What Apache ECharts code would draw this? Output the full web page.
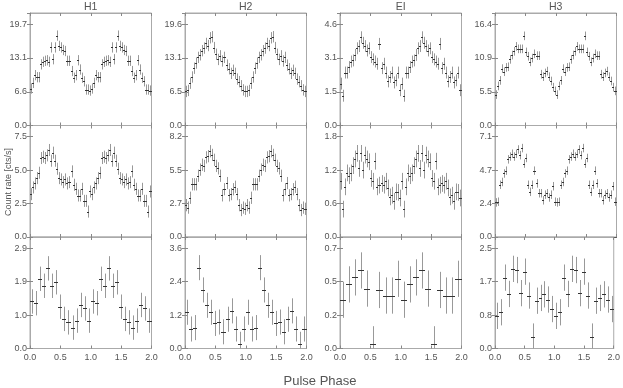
<!DOCTYPE html>
<html>
<head>
<meta charset="utf-8">
<script src="https://cdn.jsdelivr.net/npm/echarts@6/dist/echarts.min.js"></script>
<style>
html, body { margin: 0; padding: 0; background: #fff; }
#chart { width: 623px; height: 388px; }
</style>
</head>
<body>
<div id="chart"></div>
<script>
// columns, left to right
var bands = ['H1', 'H2', 'EI', 'H3']
var xTicks = [0, 0.5, 1.0, 1.5, 2.0]

// axis tops and tick labels, one line per row of panels
var yTop = [[21.9, 21.8, 5.1, 18.2], [8.33, 9.1, 2.0, 7.9], [3.2, 4.0, 0.8, 2.8]]
var yTicks = [
  [['6.6', '13.1', '19.7'], ['6.5', '13.1', '19.6'], ['1.5', '3.1', '4.6'], ['5.5', '10.9', '16.4']],
  [['2.5', '5.0', '7.5'], ['2.7', '5.5', '8.2'], ['0.6', '1.2', '1.8'], ['2.4', '4.7', '7.1']],
  [['1.0', '1.9', '2.9'], ['1.2', '2.4', '3.6'], ['0.2', '0.5', '0.7'], ['0.8', '1.7', '2.5']]
]

// one pulse cycle per panel (it is drawn twice, phase 0-2)
var h1A = [7.2, 8.3, 9.8, 9.4, 9.4, 11.9, 12.4, 12.6, 12.7, 12.4, 15.2, 12.9, 15.2, 17.5, 15.5, 15.2, 14.7, 14.5, 12.6, 12.6, 10.6, 9.3, 9.8, 12.7, 10.9, 9.3, 8.6, 7.0, 7.0, 6.8]
var h2A = [6.6, 6.8, 8.2, 9.4, 11.1, 12.1, 13.2, 13.7, 14.5, 15.0, 15.9, 15.5, 17.0, 17.2, 15.1, 13.8, 12.8, 13.5, 12.5, 13.2, 11.7, 11.0, 10.1, 10.7, 10.1, 9.0, 8.5, 7.7, 6.9, 6.6]
var eiA = [1.9, 1.35, 2.4, 2.4, 2.65, 2.9, 2.95, 3.2, 3.5, 3.6, 4.0, 3.75, 3.6, 3.4, 3.5, 3.1, 3.0, 2.9, 2.8, 3.7, 2.6, 2.8, 2.4, 2.0, 2.2, 2.4, 1.95, 2.05, 2.4, 1.6]
var h3A = [5.0, 6.4, 7.3, 9.2, 8.7, 9.4, 9.5, 10.7, 11.4, 12.0, 12.8, 12.4, 12.4, 12.4, 14.5, 11.9, 11.2, 10.3, 10.9, 11.6, 11.3, 11.3, 8.3, 7.9, 8.5, 8.8, 7.9, 7.2, 6.2, 5.6]

var h1B = [3.2, 3.7, 4.0, 4.4, 4.8, 5.9, 6.0, 5.9, 6.1, 6.5, 5.7, 6.3, 5.7, 5.1, 4.4, 4.3, 4.1, 4.3, 4.0, 4.1, 4.9, 3.9, 3.6, 3.1, 3.1, 3.6, 2.7, 2.7, 1.9, 3.4]
var h2B = [2.6, 2.4, 3.2, 4.3, 4.3, 4.3, 5.0, 5.5, 5.9, 5.8, 6.5, 6.6, 7.0, 6.7, 6.3, 5.8, 5.6, 5.0, 3.4, 3.9, 4.4, 3.4, 3.5, 3.9, 4.1, 3.5, 2.6, 2.2, 2.4, 2.3]
var eiB = [1.0, 0.5, 0.9, 1.15, 1.1, 1.15, 1.28, 1.4, 1.5, 1.23, 1.5, 1.2, 1.47, 1.4, 1.35, 1.05, 1.0, 1.36, 0.9, 0.93, 0.96, 0.93, 1.0, 0.88, 0.72, 0.75, 0.64, 0.81, 0.8, 0.7]
var h3B = [2.45, 2.5, 3.7, 3.9, 4.5, 4.7, 5.5, 5.7, 5.9, 5.7, 5.9, 6.2, 5.8, 6.3, 5.2, 5.6, 3.7, 3.2, 3.7, 4.7, 3.8, 3.1, 3.1, 2.6, 3.0, 3.1, 2.8, 3.0, 3.6, 2.5]

var h1C = [1.35, 1.3, 2.0, 1.8, 2.3, 1.8, 1.9, 1.2, 0.85, 0.75, 0.6, 0.8, 1.25, 1.15, 0.8]
var h2C = [1.3, 0.7, 0.75, 2.9, 2.1, 1.55, 1.3, 0.9, 0.95, 0.6, 1.05, 1.35, 0.7, 0.15, 0.7]
var eiC = [0.35, 0.46, 0.51, 0.56, 0.43, 0.03, 0.42, 0.38, 0.38, 0.50]
var h3C = [0.82, 0.91, 1.78, 1.37, 2.0, 1.97, 1.39, 1.93, 1.33, 0.30, 1.20, 1.27, 1.36, 1.23, 0.99]

// 1 sigma errors, one per panel
var errA = [1.0, 1.1, 0.27, 0.7]
var errB = [0.45, 0.5, 0.15, 0.3]
var errC = [0.35, 0.45, 0.13, 0.33]

var rows = [[h1A, h2A, eiA, h3A], [h1B, h2B, eiB, h3B], [h1C, h2C, eiC, h3C]]
var errs = [errA, errB, errC]

var colLeft = [30, 185, 340, 495]
var colWidth = 121.5
var rowTop = [13, 125.5, 237]
var rowHeight = [112.5, 111.5, 111.5]

var font = 'Liberation Sans, Arial, sans-serif'
var txt = '#555'

function renderErr (params, api) {
  var x = api.value(0)
  var y = api.value(1)
  var e = api.value(2)
  var hw = api.value(3)
  var top = api.coord([x, y + e])
  var bot = api.coord([x, y - e])
  var l = api.coord([x - hw, y])
  var r = api.coord([x + hw, y])
  var px = Math.round(top[0]) + 0.5
  var py = Math.round(l[1]) + 0.5
  return {
    type: 'group',
    children: [
      {type: 'line', shape: {x1: px, y1: top[1], x2: px, y2: bot[1]}, style: {stroke: '#999', lineWidth: 1}},
      {type: 'line', shape: {x1: Math.round(l[0]), y1: py, x2: Math.max(Math.round(r[0]), Math.round(l[0]) + 2), y2: py}, style: {stroke: '#333', lineWidth: 1}}
    ]
  }
}

var grid = []
var xAxis = []
var yAxis = []
var series = []
var graphic = []

rows.forEach(function (panels, ri) {
  panels.forEach(function (vals, ci) {
    var gi = grid.length
    grid.push({left: colLeft[ci], top: rowTop[ri], width: colWidth, height: rowHeight[ri], show: true, borderColor: '#aaa', borderWidth: 1})
    var xBase = {
      gridIndex: gi, type: 'value', min: xTicks[0], max: xTicks[xTicks.length - 1], interval: xTicks[1] - xTicks[0],
      splitLine: {show: false},
      axisTick: {show: true, inside: true, length: 3, lineStyle: {color: '#888'}}
    }
    xAxis.push(Object.assign({}, xBase, {
      position: 'bottom',
      axisLine: {show: true, onZero: false, lineStyle: {color: ri < 2 ? '#555' : '#aaa'}},
      axisLabel: {show: ri === 2, margin: 5, color: txt, fontFamily: font, fontSize: 9, formatter: function (v) { return v.toFixed(1) }}
    }))
    xAxis.push(Object.assign({}, xBase, {
      position: 'top',
      axisLine: {show: true, onZero: false, lineStyle: {color: '#aaa'}},
      axisLabel: {show: false}
    }))
    var top = yTop[ri][ci]
    var labels = yTicks[ri][ci]
    var yBase = {
      gridIndex: gi, type: 'value', min: 0, max: top, interval: top * 0.3,
      splitLine: {show: false},
      axisLine: {show: true, lineStyle: {color: '#aaa'}},
      axisTick: {show: true, inside: true, length: 3, lineStyle: {color: '#888'}}
    }
    yAxis.push(Object.assign({}, yBase, {
      position: 'left',
      axisLabel: {
        show: true, margin: 3, color: txt, fontFamily: font, fontSize: 9, showMaxLabel: false,
        formatter: function (v, i) { return i === 0 ? '0.0' : (labels[i - 1] || '') }
      }
    }))
    yAxis.push(Object.assign({}, yBase, {position: 'right', axisLabel: {show: false}}))

    var n = vals.length
    var data = []
    for (var k = 0; k < 2 * n; k++) {
      data.push([(k + 0.5) / n, vals[k % n], errs[ri][ci], 0.5 / n])
    }
    series.push({
      type: 'custom',
      xAxisIndex: 2 * gi,
      yAxisIndex: 2 * gi,
      clip: true,
      silent: true,
      renderItem: renderErr,
      data: data
    })
  })
})

bands.forEach(function (b, ci) {
  graphic.push({
    type: 'text', x: colLeft[ci] + colWidth / 2, y: 7,
    style: {text: b, fill: txt, font: '10.5px ' + font, textAlign: 'center', textVerticalAlign: 'middle'}
  })
})
graphic.push({
  type: 'text', x: 9, y: 182, rotation: Math.PI / 2,
  style: {text: 'Count rate [cts/s]', fill: txt, font: '9px ' + font, textAlign: 'center', textVerticalAlign: 'middle'}
})
graphic.push({
  type: 'text', x: 320, y: 381,
  style: {text: 'Pulse Phase', fill: txt, font: '13px ' + font, textAlign: 'center', textVerticalAlign: 'middle'}
})

var chart = echarts.init(document.getElementById('chart'), null, {renderer: 'canvas'})
chart.setOption({
  animation: false,
  backgroundColor: '#fff',
  grid: grid,
  xAxis: xAxis,
  yAxis: yAxis,
  series: series,
  graphic: graphic
})
</script>
</body>
</html>
